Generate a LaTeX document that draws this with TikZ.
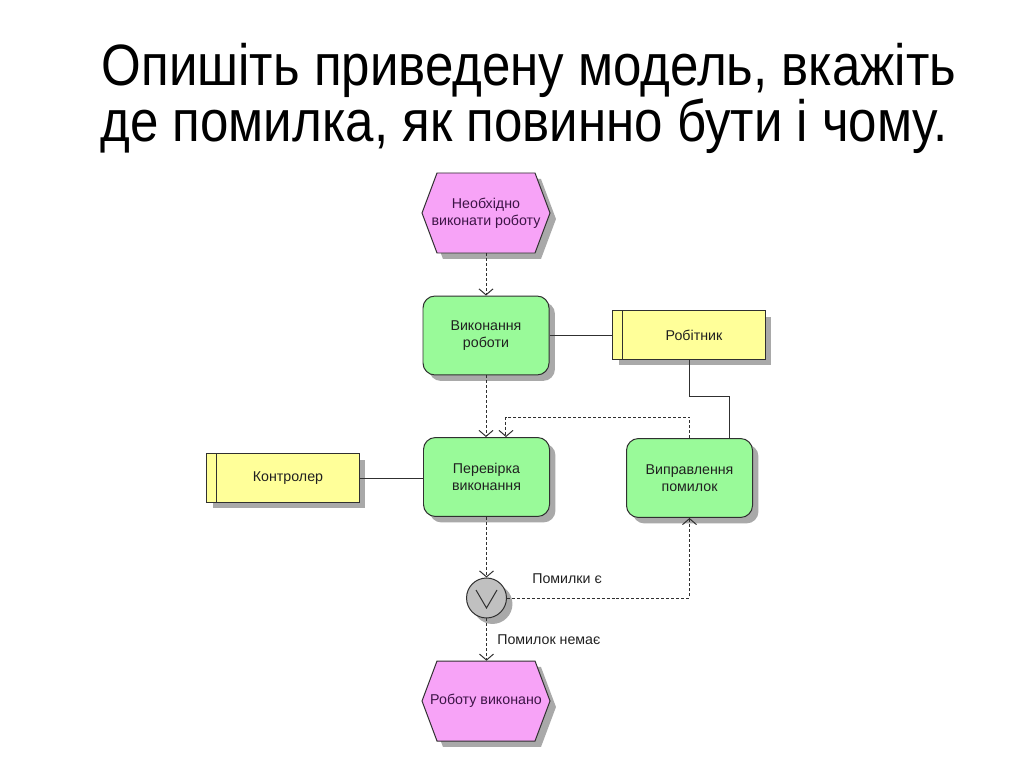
\documentclass[tikz,border=0pt]{standalone}
\usepackage{fontspec}
\setmainfont{Liberation Sans}
\usetikzlibrary{arrows.meta,shadows,calc}
\definecolor{evfill}{HTML}{F7A3F7}
\definecolor{fnfill}{HTML}{99FA99}
\definecolor{orgfill}{HTML}{FFFF99}
\definecolor{shadowc}{HTML}{A9A9A9}
\definecolor{xorfill}{HTML}{C0C0C0}
\definecolor{evtext}{HTML}{3C1446}
\definecolor{edge}{HTML}{303030}
\definecolor{txt}{HTML}{202020}
\begin{document}
\begin{tikzpicture}[x=0.703125pt,y=-0.703125pt,
  shad/.style={drop shadow={shadow xshift=4.2pt,shadow yshift=-4.2pt,fill=shadowc,opacity=1}},
  dfont/.style={font=\fontsize{10}{12.2}\selectfont},
  fn/.style={draw=edge,line width=0.7pt,fill=fnfill,rounded corners=8.4pt,minimum width=88.6pt,minimum height=55.5pt,align=center,dfont,text=txt,inner sep=0pt,shad},
  org/.style={draw=edge,line width=0.7pt,fill=orgfill,minimum width=106.9pt,minimum height=34pt,inner sep=0pt,dfont,text=txt,shad},
  evhex/.style={draw=edge,line width=0.7pt,fill=evfill,shad},
  evnode/.style={minimum width=90pt,minimum height=56.25pt,inner sep=0pt,align=center,text=evtext,dfont},
  xor/.style={circle,draw=edge,line width=0.7pt,fill=xorfill,minimum size=28.1pt,inner sep=0pt,shad},
  flow/.style={draw=edge,line width=0.7pt,dash pattern=on 2.1pt off 1.4pt,-{Straight Barb[length=4.2pt,width=9.8pt]}},
  link/.style={draw=edge,line width=0.7pt},
  lbl/.style={dfont,text=txt,anchor=base west,inner sep=0pt},
  ttl/.style={font=\fontsize{41}{49}\selectfont,anchor=base,inner sep=0pt,xscale=0.875}
]
\useasboundingbox[fill=white] (0,0) rectangle (1024,768);

% title
\node[ttl] (t1) at (529,86) {Опишіть приведену модель, вкажіть};
\node[ttl] (t2) at (524,142) {де помилка, як повинно бути і чому.};

% events (hexagons)
\path[evhex] (422,213) -- (437,173) -- (535,173) -- (550,213) -- (535,253) -- (437,253) -- cycle;
\node[evnode] (e1) at (486,213) {Необхідно\\виконати роботу};
\path[evhex] (422,701) -- (437,661) -- (535,661) -- (550,701) -- (535,741) -- (437,741) -- cycle;
\node[evnode] (e2) at (486,701) {Роботу виконано};

% functions
\node[fn] (f1) at (486,335.5) {Виконання\\роботи};
\node[fn] (f2) at (486.5,477) {Перевірка\\виконання};
\node[fn] (f3) at (689.5,478) {Виправлення\\помилок};

% organisational units
\node[org] (o1) at (689,335) {\hspace{7pt}Робітник};
\draw[link] ([xshift=7pt]o1.north west) -- ([xshift=7pt]o1.south west);
\node[org] (o2) at (283,478) {\hspace{7pt}Контролер};
\draw[link] ([xshift=6.7pt]o2.north west) -- ([xshift=6.7pt]o2.south west);

% XOR connector
\node[xor] (x) at (486.5,598) {};
\draw[link] ($(x)+(-10.5,-8)$) -- ($(x)+(0,10)$) -- ($(x)+(10.5,-8)$);

% connectors
\draw[flow] (e1.south) -- (f1.north);
\draw[flow] (f1.south) -- (f1.south |- f2.north);
\draw[link] (f1.east) -- (f1.east -| o1.west);
\draw[link] (o1.south) -- ++(0,37) -| ([xshift=28.1pt]f3.north);
\draw[flow] (f3.north) -- ++(0,-21) -| ([xshift=13.7pt]f2.north);
\draw[link] (o2.east) -- (o2.east -| f2.west);
\draw[flow] (f2.south) -- (x.north);
\draw[flow] (x.east) -| (f3.south);
\draw[flow] (x.south) -- (x.south |- e2.north);

% labels
\node[lbl] (l1) at (532,583) {Помилки є};
\node[lbl] (l2) at (497,644) {Помилок немає};
\end{tikzpicture}
\end{document}
